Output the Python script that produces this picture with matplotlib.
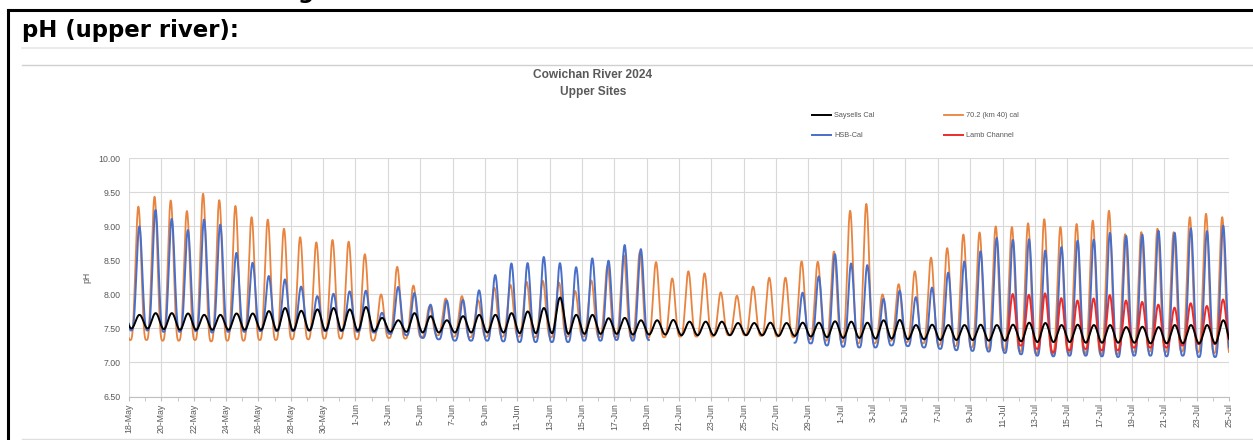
import numpy as np
import matplotlib
matplotlib.use("Agg")
import matplotlib.pyplot as plt
from matplotlib.lines import Line2D

W, H = 1253, 440

# ---------------- data (daily peak / trough) ----------------
tick_labels = ["18-May", "20-May", "22-May", "24-May", "26-May", "28-May", "30-May",
               "1-Jun", "3-Jun", "5-Jun", "7-Jun", "9-Jun", "11-Jun", "13-Jun", "15-Jun",
               "17-Jun", "19-Jun", "21-Jun", "23-Jun", "25-Jun", "27-Jun", "29-Jun",
               "1-Jul", "3-Jul", "5-Jul", "7-Jul", "9-Jul", "11-Jul", "13-Jul", "15-Jul",
               "17-Jul", "19-Jul", "21-Jul", "23-Jul", "25-Jul"]

# 70.2 (km 40) cal  (orange) - one value per day, 18-May .. 24-Jul
orange_peak = [9.29, 9.43, 9.38, 9.23, 9.47, 9.39, 9.30, 9.14, 9.10, 8.97, 8.84, 8.77, 8.80, 8.77,
               8.58, 8.02, 8.40, 8.14, 7.84, 7.93, 7.97, 7.92, 8.10, 8.14, 8.18, 8.20, 8.18, 8.05,
               8.20, 8.42, 8.57, 8.62, 8.48, 8.24, 8.34, 8.31, 8.04, 7.98, 8.11, 8.24, 8.24, 8.47,
               8.47, 8.62, 9.22, 9.33, 8.02, 8.14, 8.33, 8.53, 8.67, 8.87, 8.90, 8.99, 8.98, 9.03,
               9.10, 9.00, 9.03, 9.08, 9.23, 8.90, 8.92, 8.96, 8.92, 9.13, 9.18, 9.13]
orange_low = [7.33, 7.32, 7.32, 7.33, 7.31, 7.32, 7.32, 7.33, 7.33, 7.34, 7.34, 7.35, 7.35, 7.34,
              7.32, 7.36, 7.35, 7.37, 7.40, 7.38, 7.37, 7.38, 7.38, 7.38, 7.37, 7.37, 7.38, 7.38,
              7.37, 7.37, 7.36, 7.36, 7.37, 7.38, 7.38, 7.38, 7.40, 7.40, 7.39, 7.38, 7.37, 7.34,
              7.32, 7.30, 7.28, 7.28, 7.32, 7.30, 7.28, 7.26, 7.24, 7.22, 7.20, 7.18, 7.16, 7.13,
              7.12, 7.14, 7.13, 7.12, 7.12, 7.15, 7.16, 7.15, 7.16, 7.15, 7.14, 7.13]

# HSB-Cal (blue); None = no data
blue_peak = [9.00, 9.23, 9.11, 8.95, 9.09, 9.03, 8.61, 8.47, 8.27, 8.22, 8.12, 7.97, 8.01, 8.04,
             8.05, 7.72, 8.10, 8.00, 7.84, 7.90, 7.92, 8.06, 8.28, 8.45, 8.46, 8.55, 8.46, 8.41,
             8.53, 8.50, 8.72, 8.67, None, None, None, None, None, None, None, None, None, 8.02,
             8.25, 8.58, 8.45, 8.43, 7.95, 8.05, 7.95, 8.09, 8.31, 8.48, 8.63, 8.82, 8.79, 8.80,
             8.64, 8.70, 8.79, 8.80, 8.90, 8.87, 8.88, 8.93, 8.91, 8.96, 8.93, 9.02]
blue_low = [7.47, 7.45, 7.45, 7.46, 7.44, 7.45, 7.45, 7.46, 7.46, 7.46, 7.47, 7.46, 7.46, 7.45,
            7.44, 7.42, 7.40, 7.36, 7.34, 7.32, 7.32, 7.32, 7.31, 7.30, 7.30, 7.30, 7.30, 7.32,
            7.32, 7.33, 7.32, 7.33, 7.35, 7.33, 7.32, 7.31, 7.30, 7.30, 7.30, 7.29, 7.29, 7.28,
            7.25, 7.23, 7.22, 7.22, 7.25, 7.24, 7.22, 7.20, 7.18, 7.17, 7.16, 7.14, 7.12, 7.10,
            7.09, 7.10, 7.10, 7.09, 7.08, 7.10, 7.10, 7.09, 7.10, 7.08, 7.08, 7.10]
blue_gap = (32.3, 41.1)

# Saysells Cal (black)
black_peak = [7.70, 7.72, 7.72, 7.72, 7.70, 7.70, 7.72, 7.72, 7.75, 7.80, 7.76, 7.78, 7.80, 7.78,
              7.81, 7.65, 7.62, 7.72, 7.68, 7.62, 7.68, 7.70, 7.70, 7.72, 7.75, 7.80, 7.95, 7.70,
              7.70, 7.65, 7.65, 7.62, 7.62, 7.62, 7.60, 7.60, 7.60, 7.58, 7.58, 7.58, 7.58, 7.58,
              7.58, 7.60, 7.60, 7.58, 7.62, 7.62, 7.55, 7.55, 7.55, 7.55, 7.55, 7.55, 7.55, 7.58,
              7.58, 7.55, 7.55, 7.55, 7.55, 7.52, 7.52, 7.52, 7.55, 7.55, 7.55, 7.62]
black_low = [7.50, 7.49, 7.48, 7.48, 7.48, 7.48, 7.48, 7.48, 7.47, 7.47, 7.47, 7.47, 7.47, 7.47,
             7.46, 7.45, 7.45, 7.44, 7.44, 7.44, 7.44, 7.44, 7.44, 7.43, 7.43, 7.43, 7.42, 7.42,
             7.42, 7.42, 7.41, 7.41, 7.41, 7.40, 7.40, 7.40, 7.40, 7.40, 7.40, 7.39, 7.39, 7.38,
             7.37, 7.36, 7.36, 7.35, 7.35, 7.34, 7.34, 7.33, 7.33, 7.33, 7.32, 7.32, 7.31, 7.30,
             7.30, 7.30, 7.29, 7.29, 7.29, 7.29, 7.28, 7.28, 7.28, 7.28, 7.28, 7.28]

# Lamb Channel (red), starts 11-Jul
red_start = 54.3
red_peak = [None] * 54 + [8.02, 7.97, 7.99, 7.96, 7.92, 7.93, 7.99, 7.93, 7.89, 7.85, 7.82,
                          7.88, 7.83, 7.94]
red_low = [None] * 54 + [7.25, 7.20, 7.15, 7.18, 7.20, 7.18, 7.18, 7.22, 7.22, 7.22, 7.25,
                         7.27, 7.27, 7.30]

n_days = len(orange_peak)


def diurnal(peaks, lows, phase, power, t):
    """Daily cycle drawn through each day's peak and trough."""
    pk = np.array([np.nan if v is None else v for v in peaks], float)
    lo = np.array([np.nan if v is None else v for v in lows], float)
    day = np.clip(np.floor(t - phase + 0.5).astype(int), 0, len(pk) - 1)
    base_x = np.arange(len(lo)) + phase + 0.5
    lo_f = np.where(np.isnan(lo), np.nanmean(lo), lo)
    base = np.interp(t, base_x, lo_f)
    s = ((1 + np.cos(2 * np.pi * (t - phase))) / 2) ** power
    amp = pk[day] - lo_f[day]
    return base + amp * s


t = np.linspace(0, n_days, n_days * 96 + 1)
y_orange = diurnal(orange_peak, orange_low, 0.58, 1.6, t)
y_blue = diurnal(blue_peak, blue_low, 0.64, 1.6, t)
y_blue[(t > blue_gap[0]) & (t < blue_gap[1])] = np.nan
y_black = diurnal(black_peak, black_low, 0.65, 1.0, t)
y_red = diurnal(red_peak, red_low, 0.63, 1.5, t)
y_red[t < red_start] = np.nan

# ---------------- figure ----------------
fig = plt.figure(figsize=(W / 100, H / 100), dpi=100)
fig.patch.set_facecolor("white")


def fx(px):
    return px / W


def fy(py):
    return 1 - py / H


# page decorations
fig.add_artist(Line2D([fx(8), fx(8)], [fy(10), fy(440)], color="black", lw=2.2))
fig.add_artist(Line2D([fx(8), fx(1253)], [fy(10), fy(10)], color="black", lw=2.2))
fig.add_artist(Line2D([fx(22), fx(1253)], [fy(48.5), fy(48.5)], color="#e8e8e8", lw=1.2))
fig.add_artist(Line2D([fx(22), fx(1253)], [fy(65), fy(65)], color="#d0d0d0", lw=1.0))
fig.add_artist(Line2D([fx(22), fx(1253)], [fy(439), fy(439)], color="#e0e0e0", lw=1.0))
fig.text(fx(22), fy(-2.0), "Continuous Monitoring", fontsize=16.4, fontweight="bold",
         family="DejaVu Sans", va="baseline", ha="left")
fig.text(fx(22), fy(37.5), "pH (upper river):", fontsize=16.4, fontweight="bold",
         family="DejaVu Sans", va="baseline", ha="left")

fig.text(fx(593), fy(75), "Cowichan River 2024", fontsize=8.6, fontweight="bold",
         family="Liberation Sans", color="#595959", ha="center", va="center")
fig.text(fx(593), fy(92), "Upper Sites", fontsize=8.6, fontweight="bold",
         family="Liberation Sans", color="#595959", ha="center", va="center")

ax = fig.add_axes([fx(129), fy(396.5), (1229 - 129) / W, (396.5 - 158.3) / H])

c_orange = "#E8843F"
c_blue = "#4A6FC8"
c_red = "#EE2B2B"
l_orange, = ax.plot(t, y_orange, color=c_orange, lw=1.3, zorder=3, label="70.2 (km 40) cal")
l_blue, = ax.plot(t, y_blue, color=c_blue, lw=1.4, zorder=4, label="HSB-Cal")
l_red, = ax.plot(t, y_red, color=c_red, lw=1.4, zorder=5, label="Lamb Channel")
l_black, = ax.plot(t, y_black, color="black", lw=1.4, zorder=6, label="Saysells Cal")

ax.set_xlim(0, n_days)
ax.set_ylim(6.5, 10.0)
ax.set_yticks(np.arange(6.5, 10.01, 0.5))
ax.set_yticklabels([f"{v:.2f}" for v in np.arange(6.5, 10.01, 0.5)])
ax.set_xticks(np.arange(0, n_days + 1, 2))
ax.set_xticklabels(tick_labels, rotation=90)
ax.set_xticks(np.arange(0, n_days + 1, 1), minor=True)
ax.grid(True, which="major", color="#d9d9d9", lw=0.8, zorder=0)
for sp in ["top", "right", "left"]:
    ax.spines[sp].set_visible(False)
ax.spines["bottom"].set_color("#bfbfbf")
ax.spines["bottom"].set_linewidth(0.8)
ax.tick_params(axis="y", length=0, pad=6, labelsize=6.3, labelcolor="#595959")
ax.tick_params(axis="x", which="major", length=3, color="#bfbfbf", pad=2,
               labelsize=6.3, labelcolor="#595959")
ax.tick_params(axis="x", which="minor", length=3, color="#bfbfbf")
for lab in ax.get_xticklabels() + ax.get_yticklabels():
    lab.set_family("Liberation Sans")
ax.set_ylabel("pH", fontsize=6.3, color="#595959", family="Liberation Sans", labelpad=5)

leg = fig.legend(handles=[l_black, l_blue, l_orange, l_red],
                 labels=["Saysells Cal", "HSB-Cal", "70.2 (km 40) cal", "Lamb Channel"],
                 ncol=2, loc="upper left", bbox_to_anchor=(fx(812), fy(112)),
                 frameon=False, borderpad=0, borderaxespad=0, handlelength=2.6,
                 handletextpad=0.4, columnspacing=9.5, labelspacing=1.75,
                 prop={"family": "Liberation Sans", "size": 5.3})
for txt in leg.get_texts():
    txt.set_color("#595959")

fig.savefig("out.png", dpi=100, facecolor="white")
